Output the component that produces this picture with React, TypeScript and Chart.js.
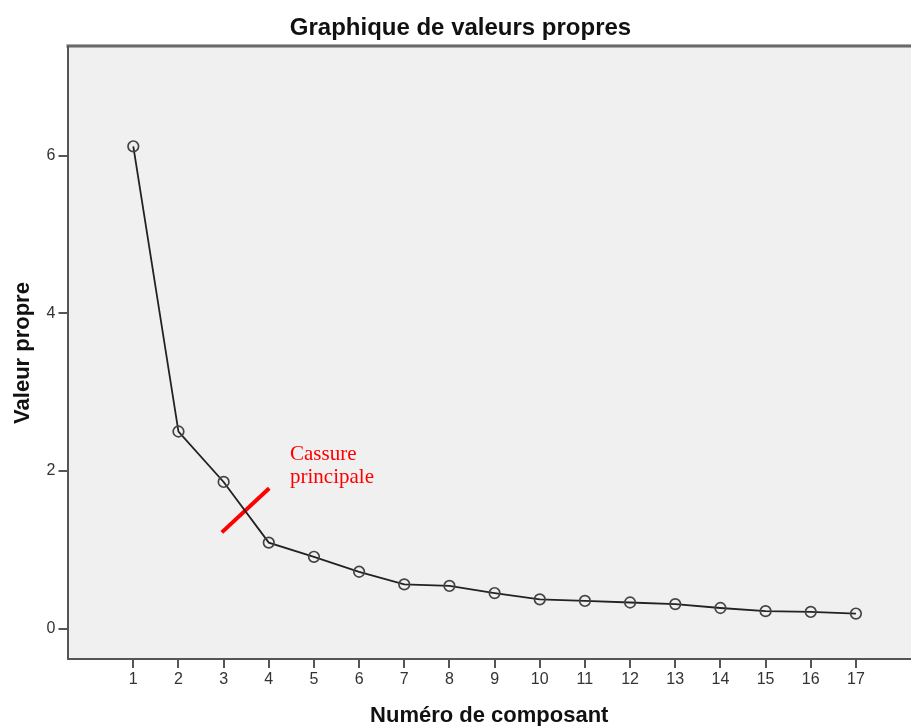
import React, { useEffect, useRef } from "react";
import { Chart, registerables } from "chart.js";

Chart.register(...registerables);

const components = [1, 2, 3, 4, 5, 6, 7, 8, 9, 10, 11, 12, 13, 14, 15, 16, 17];
const eigenvalues = [6.12, 2.5, 1.86, 1.09, 0.91, 0.72, 0.56, 0.54, 0.45, 0.37, 0.35, 0.33, 0.31, 0.26, 0.22, 0.21, 0.19];
const xTicks = [1, 2, 3, 4, 5, 6, 7, 8, 9, 10, 11, 12, 13, 14, 15, 16, 17];
const yTicks = [0, 2, 4, 6];
const breakLineX = [2.96, 4.01];
const breakLineY = [1.22, 1.78];
const noteLines = ["Cassure", "principale"];
const notePos = { x: 4.47, y: 2.14 };

const FONT = "'Liberation Sans', Arial, sans-serif";

const plotBg = {
  id: "plotBg",
  beforeDraw(chart: any) {
    const { ctx, chartArea: a } = chart;
    ctx.save();
    ctx.fillStyle = "#f0f0f0";
    ctx.fillRect(a.left, a.top, a.right - a.left, a.bottom - a.top);
    ctx.fillStyle = "#6a6a6a";
    ctx.fillRect(a.left - 1, a.top - 2, a.right - a.left + 1, 2);
    ctx.fillStyle = "#a8a8a8";
    ctx.fillRect(a.left - 1, a.top - 3, a.right - a.left + 1, 1);
    ctx.fillRect(a.left - 1, a.top, a.right - a.left + 1, 1);
    ctx.restore();
  },
};

const notePlugin = {
  id: "notePlugin",
  afterDatasetsDraw(chart: any) {
    const { ctx, scales } = chart;
    const x = scales.x.getPixelForValue(notePos.x);
    const y = scales.y.getPixelForValue(notePos.y);
    ctx.save();
    ctx.fillStyle = "#ff0000";
    ctx.font = "21px 'Liberation Serif', serif";
    ctx.textAlign = "left";
    ctx.textBaseline = "alphabetic";
    noteLines.forEach((t, i) => ctx.fillText(t, x, y + i * 23));
    ctx.restore();
  },
};

export default function App() {
  const ref = useRef<HTMLCanvasElement>(null);
  useEffect(() => {
    document.body.style.margin = "0";
    const chart = new Chart(ref.current!, {
      type: "line",
      data: {
        datasets: [
          {
            data: components.map((c, i) => ({ x: c, y: eigenvalues[i] })),
            borderColor: "#222",
            borderWidth: 1.8,
            pointRadius: 5.3,
            pointBorderColor: "#444",
            pointBorderWidth: 1.7,
            pointBackgroundColor: "rgba(240,240,240,0)",
            tension: 0,
          },
          {
            data: breakLineX.map((x, i) => ({ x, y: breakLineY[i] })),
            borderColor: "#ff0000",
            borderWidth: 4,
            pointRadius: 0,
            borderCapStyle: "butt",
          },
        ],
      },
      options: {
        animation: false,
        responsive: false,
        devicePixelRatio: 1,
        layout: { autoPadding: false, padding: { left: 10, right: 0, top: 0, bottom: 0 } },
        plugins: {
          legend: { display: false },
          tooltip: { enabled: false },
          title: {
            display: true,
            text: "Graphique de valeurs propres",
            color: "#111",
            font: { family: FONT, size: 24, weight: "bold" },
            padding: { top: 14.1, bottom: 4.1 },
          },
        },
        scales: {
          x: {
            type: "linear",
            min: -0.457,
            max: 18.22,
            afterBuildTicks: (s: any) => {
              s.ticks = xTicks.map((v) => ({ value: v }));
            },
            afterFit: (s: any) => {
              s.height = 67;
              s.paddingLeft = 0;
              s.paddingRight = 0;
            },
            ticks: {
              color: "#333",
              font: { family: FONT, size: 16 },
              padding: 2,
              maxRotation: 0,
              autoSkip: false,
              callback: (v: any) => String(v),
            },
            grid: { drawOnChartArea: false, drawTicks: true, tickLength: 9, color: "#555", lineWidth: 2 },
            border: { display: true, color: "#555", width: 2 },
            title: {
              display: true,
              text: "Numéro de composant",
              color: "#111",
              font: { family: FONT, size: 22, weight: "bold" },
              padding: { top: 0, bottom: -3 },
            },
          },
          y: {
            type: "linear",
            min: -0.387,
            max: 7.38,
            afterBuildTicks: (s: any) => {
              s.ticks = yTicks.map((v) => ({ value: v }));
            },
            afterFit: (s: any) => {
              s.width = 57.5;
            },
            ticks: {
              color: "#333",
              font: { family: FONT, size: 16 },
              padding: 3,
              callback: (v: any) => String(v),
            },
            grid: { drawOnChartArea: false, drawTicks: true, tickLength: 9, color: "#555", lineWidth: 2 },
            border: { display: true, color: "#555", width: 2 },
            title: {
              display: true,
              text: "Valeur propre",
              color: "#111",
              font: { family: FONT, size: 22, weight: "bold" },
              padding: { top: 0, bottom: 0 },
            },
          },
        },
      },
      plugins: [plotBg, notePlugin],
    });
    return () => chart.destroy();
  }, []);
  return (
    <div style={{ position: "absolute", left: 0, top: 0, width: 911, height: 726 }}>
      <canvas ref={ref} width={911} height={726} />
    </div>
  );
}
